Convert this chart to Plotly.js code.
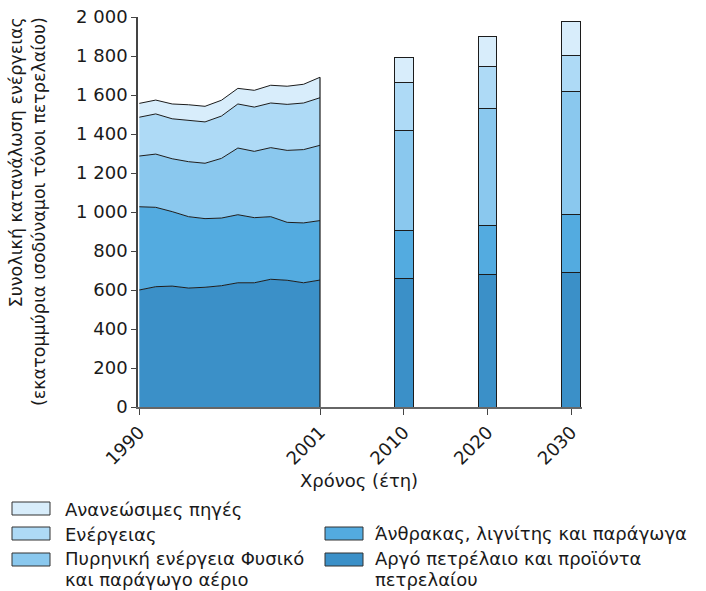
<!DOCTYPE html>
<html>
<head>
<meta charset="utf-8">
<script src="https://cdn.plot.ly/plotly-3.0.1.min.js"></script>
<style>
  html, body { margin: 0; padding: 0; background: #fff; }
  #chart { width: 706px; height: 591px; }
</style>
</head>
<body>
<div id="chart"></div>
<script>
/* ── data ───────────────────────────────────────────── */
const areaYears = [1990, 1991, 1992, 1993, 1994, 1995, 1996, 1997, 1998, 1999, 2000, 2001];
const barYears  = [2010, 2020, 2030];

// ιστορικά 1990–2001 (εκατ. ΤΙΠ)
const oilArea   = [600, 617, 620, 610, 614, 622, 637, 637, 655, 650, 637, 651];
const coalArea  = [427, 407, 382, 366, 352, 347, 349, 334, 321, 297, 307, 305];
const gasArea   = [260, 273, 271, 282, 284, 306, 342, 340, 354, 369, 376, 386];
const elecArea  = [199, 206, 205, 212, 212, 217, 226, 227, 229, 236, 239, 244];
const renArea   = [71, 71, 76, 80, 80, 81, 80, 86, 91, 93, 96, 105];

// προβλέψεις 2010 / 2020 / 2030
const oilBar  = [660, 677, 689];
const coalBar = [244, 253, 299];
const gasBar  = [513, 602, 632];
const elecBar = [246, 213, 185];
const renBar  = [130, 154, 171];

const seriesNames = [
  'Αργό πετρέλαιο και προϊόντα<br>πετρελαίου',
  'Άνθρακας, λιγνίτης και παράγωγα',
  'Πυρηνική ενέργεια Φυσικό<br>και παράγωγο αέριο',
  'Ενέργειας',
  'Ανανεώσιμες πηγές',
];
const yTicks = [0, 200, 400, 600, 800, 1000, 1200, 1400, 1600, 1800, 2000];

/* ── style ──────────────────────────────────────────── */
const COLORS = ['#3b90c8', '#53abe0', '#8ac8ee', '#aedaf6', '#d8edfb'];
const EDGE   = '#1c1c1c';
const FONT   = "Verdana, 'DejaVu Sans', sans-serif";

// άξονας x: 1990–2001 γραμμικά, οι προβλέψεις σε ίσα διαστήματα
const xArea = areaYears.map(y => y - areaYears[0]);
const lastX = xArea[xArea.length - 1];
const xBar  = barYears.map((_, i) => lastX + 5.1 * (i + 1));

// pixel → paper helpers (plot area: x 138–582, y 17–407)
const L = 138, R = 582, T = 17, B = 407;
const px = x => (x - L) / (R - L);
const py = y => (B - y) / (B - T);

const areaSets = [oilArea, coalArea, gasArea, elecArea, renArea];
const barSets  = [oilBar, coalBar, gasBar, elecBar, renBar];

const traces = [];
areaSets.forEach((vals, i) => {
  traces.push({
    x: xArea, y: vals,
    type: 'scatter', mode: 'lines',
    stackgroup: 'hist',
    line: { color: EDGE, width: 1 },
    fillcolor: COLORS[i],
    hoverinfo: 'skip', showlegend: false,
  });
});
// δεξιό περίγραμμα της περιοχής (2001)
const total2001 = areaSets.reduce((s, a) => s + a[a.length - 1], 0);
traces.push({
  x: [lastX, lastX], y: [0, total2001],
  type: 'scatter', mode: 'lines',
  line: { color: EDGE, width: 1.2 },
  hoverinfo: 'skip', showlegend: false,
});
barSets.forEach((vals, i) => {
  traces.push({
    x: xBar, y: vals,
    type: 'bar', width: 1.15,
    marker: { color: COLORS[i], line: { color: EDGE, width: 1 } },
    hoverinfo: 'skip', showlegend: false,
  });
});

/* ── custom legend ─────────────────────────────────── */
const legendItems = [
  { i: 4, bx: 12,  by: 502, tx: 63,  ty: 509 },
  { i: 3, bx: 12,  by: 527, tx: 63,  ty: 534 },
  { i: 2, bx: 12,  by: 553, tx: 63,  ty: 558 },
  { i: 1, bx: 325, by: 527, tx: 373, ty: 533 },
  { i: 0, bx: 325, by: 553, tx: 373, ty: 558 },
];
const LINE_GAP = 21;
const shapes = legendItems.map(it => ({
  type: 'rect', xref: 'paper', yref: 'paper',
  x0: px(it.bx), x1: px(it.bx + 38), y0: py(it.by), y1: py(it.by + 13),
  fillcolor: COLORS[it.i], line: { color: '#333', width: 1 },
}));
const annotations = [];
legendItems.forEach(it => {
  // κάθε γραμμή χωριστά, για πιο σφιχτό διάστιχο
  seriesNames[it.i].split('<br>').forEach((line, k) => {
    annotations.push({
      xref: 'paper', yref: 'paper',
      x: px(it.tx), y: py(it.ty + k * LINE_GAP),
      xanchor: 'left', yanchor: 'middle',
      align: 'left', showarrow: false,
      text: line,
      font: { family: FONT, size: 18, color: '#1a1a1a' },
    });
  });
});
annotations.push({
  xref: 'paper', yref: 'paper', x: px(27), y: py(212),
  xanchor: 'center', yanchor: 'middle', showarrow: false,
  textangle: -90, align: 'right',
  text: 'Συνολική κατανάλωση ενέργειας<br>(εκατομμύρια ισοδύναμοι τόνοι πετρελαίου)',
  font: { family: FONT, size: 17.5, color: '#1a1a1a' },
});
annotations.push({
  xref: 'paper', yref: 'paper', x: px(359), y: py(480),
  xanchor: 'center', yanchor: 'middle', showarrow: false,
  text: 'Χρόνος (έτη)',
  font: { family: FONT, size: 18, color: '#1a1a1a' },
});

const layout = {
  width: 706, height: 591,
  paper_bgcolor: '#fff', plot_bgcolor: '#fff',
  margin: { l: L, r: 706 - R, t: T, b: 591 - B, pad: 0 },
  font: { family: FONT, size: 18, color: '#1a1a1a' },
  separators: ', ',
  barmode: 'stack',
  showlegend: false,
  xaxis: {
    range: [-0.08, 26.95],
    tickvals: [xArea[0], lastX, ...xBar],
    ticktext: [areaYears[0], areaYears[areaYears.length - 1], ...barYears].map(String),
    tickangle: -45,
    ticks: 'outside', ticklen: 6, tickcolor: '#444', tickwidth: 1,
    showline: true, linecolor: '#666', linewidth: 1.5,
    showgrid: false, zeroline: false,
    tickfont: { size: 18 },
  },
  yaxis: {
    range: [0, 2000],
    tickvals: yTicks,
    separatethousands: true,
    ticks: 'outside', ticklen: 5, tickcolor: '#444', tickwidth: 1,
    showline: true, linecolor: '#444', linewidth: 1.5,
    showgrid: false, zeroline: false,
    tickfont: { size: 18 },
  },
  shapes,
  annotations,
};

Plotly.newPlot('chart', traces, layout, { displayModeBar: false, responsive: false });
</script>
</body>
</html>
